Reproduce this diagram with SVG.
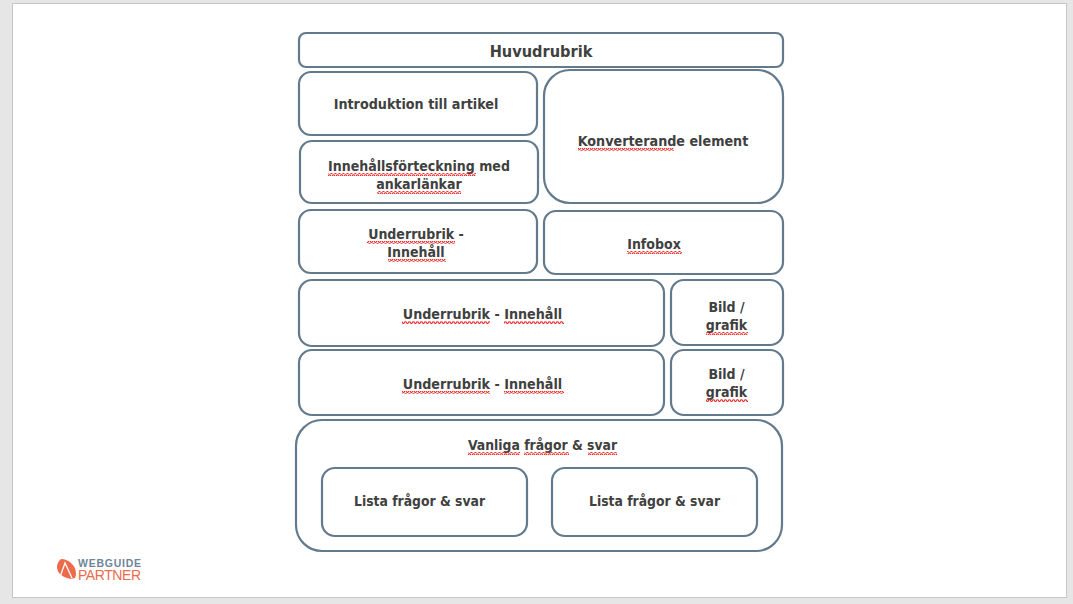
<svg xmlns="http://www.w3.org/2000/svg" width="1073" height="604" viewBox="0 0 1073 604">
<style>
.b{fill:#fff;stroke:#627a8c;stroke-width:2.200}
.t{font-family:"DejaVu Sans","Liberation Sans",sans-serif;font-stretch:condensed;font-weight:700;font-size:14px;fill:#404040;text-anchor:middle}
.m{font-size:13.800px}
.s{fill:url(#sq)}
.l{font-family:"Liberation Sans",sans-serif}
</style>
<defs>
<pattern id="sq" width="4" height="3" patternUnits="userSpaceOnUse">
<path d="M0 2.400L1 .8L2 .8L3 2.400L4 2.400" fill="none" stroke="#e8302c" stroke-width="1.100"/>
</pattern>
</defs>
<rect width="1073" height="604" fill="#e6e6e6"/>
<rect x="12.500" y="3.500" width="1054" height="594" fill="#fff" stroke="#c6c6c6"/>
<g id="n1"><rect class="b" x="299" y="33" width="484" height="34" rx="7"/><text class="t" x="541" y="56.500" style="font-size:16.200px">Huvudrubrik</text></g>
<g id="n2"><rect class="b" x="299" y="72" width="238" height="63" rx="12"/><text class="t" x="416" y="109" style="font-size:14.200px">Introduktion till artikel</text></g>
<g id="n3"><rect class="b" x="300" y="141" width="238" height="62" rx="12"/><text class="t" x="419" y="171">Innehållsförteckning med</text><text class="t" x="419" y="189">ankarlänkar</text><rect class="s" x="328" y="173" width="148" height="3"/><rect class="s" x="377" y="191" width="84" height="3"/></g>
<g id="n4"><rect class="b" x="544" y="70" width="239" height="133" rx="26"/><text class="t" x="663" y="146" style="font-size:14.200px">Konverterande element</text><rect class="s" x="578" y="148" width="96" height="3"/></g>
<g id="n5"><rect class="b" x="299" y="210" width="238" height="63" rx="12"/><text class="t" x="416" y="239">Underrubrik -</text><text class="t" x="416" y="257">Innehåll</text><rect class="s" x="367" y="241" width="88" height="3"/><rect class="s" x="388" y="259" width="58" height="3"/></g>
<g id="n6"><rect class="b" x="544" y="211" width="239" height="63" rx="12"/><text class="t" x="654" y="249">Infobox</text><rect class="s" x="627" y="251" width="55" height="3"/></g>
<g id="n7"><rect class="b" x="299" y="280" width="365" height="66" rx="13"/><text class="t" x="482.500" y="319" style="font-size:14.200px">Underrubrik - Innehåll</text><rect class="s" x="402" y="321" width="88" height="3"/><rect class="s" x="504" y="321" width="60" height="3"/></g>
<g id="n8"><rect class="b" x="671" y="280" width="112" height="65" rx="13"/><text class="t" x="726.500" y="312">Bild /</text><text class="t" x="726.500" y="330">grafik</text><rect class="s" x="706" y="332" width="42" height="3"/></g>
<g id="n9"><rect class="b" x="299" y="350" width="365" height="65" rx="13"/><text class="t" x="482.500" y="389" style="font-size:14.200px">Underrubrik - Innehåll</text><rect class="s" x="402" y="391" width="88" height="3"/><rect class="s" x="504" y="391" width="60" height="3"/></g>
<g id="n10"><rect class="b" x="671" y="350" width="112" height="65" rx="13"/><text class="t" x="726.500" y="379">Bild /</text><text class="t" x="726.500" y="397">grafik</text><rect class="s" x="706" y="399" width="42" height="3"/></g>
<g id="n11"><rect class="b" x="296" y="420" width="486" height="131" rx="26"/><text class="t m" x="542.500" y="450">Vanliga frågor &amp; svar</text><rect class="s" x="468" y="452" width="52" height="3"/><rect class="s" x="524" y="452" width="45" height="3"/><rect class="s" x="588" y="452" width="29" height="3"/></g>
<g id="n12"><rect class="b" x="322" y="468" width="205" height="68" rx="13"/><text class="t m" x="419.500" y="506">Lista frågor &amp; svar</text></g>
<g id="n13"><rect class="b" x="552" y="468" width="205" height="68" rx="13"/><text class="t m" x="654.500" y="506">Lista frågor &amp; svar</text></g>
<g id="logo">
<path d="M61 559C69 559 76 566 76 573C76 575 75.500 577 75 578C72 579 69 579 67 578C61 576 57 572 57 567C57 564 58.500 561 61 559Z" fill="#ee6a4c"/>
<path d="M60 577L65 563L72 578" fill="none" stroke="#fff" stroke-width="1.300"/>
<text class="l" x="78" y="567" style="font-weight:700;font-size:10.500px;fill:#6f8699" textLength="63">WEBGUIDE</text>
<text class="l" x="78" y="580" style="font-size:14px;fill:#ee6a4c" textLength="63">PARTNER</text>
</g>
</svg>
